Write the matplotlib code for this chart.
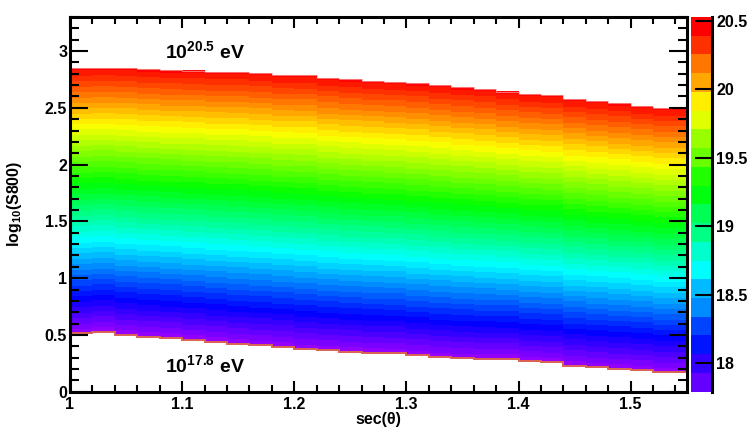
import colorsys
import numpy as np
import matplotlib
matplotlib.use('Agg')
import matplotlib.pyplot as plt
from matplotlib.colors import ListedColormap, Normalize, BoundaryNorm
from matplotlib.cm import ScalarMappable
from matplotlib.ticker import MultipleLocator

# sec(theta) bins (lower edges), width 0.02
sec_lo = [1.00, 1.02, 1.04, 1.06, 1.08, 1.10, 1.12, 1.14, 1.16, 1.18,
          1.20, 1.22, 1.24, 1.26, 1.28, 1.30, 1.32, 1.34, 1.36, 1.38,
          1.40, 1.42, 1.44, 1.46, 1.48, 1.50, 1.52, 1.54]
bin_width = 0.02

# log10(S800) reached by a 10^20.5 eV shower in each bin
s800_top = [2.851, 2.851, 2.851, 2.839, 2.830, 2.828, 2.819, 2.819, 2.807, 2.792,
            2.792, 2.766, 2.751, 2.740, 2.731, 2.719, 2.701, 2.683, 2.669, 2.643,
            2.625, 2.616, 2.581, 2.560, 2.539, 2.519, 2.501, 2.501]
# log10(S800) reached by a 10^17.8 eV shower in each bin
s800_bottom = [0.515, 0.530, 0.500, 0.485, 0.474, 0.456, 0.439, 0.421, 0.410, 0.397,
               0.377, 0.365, 0.353, 0.344, 0.339, 0.321, 0.306, 0.297, 0.289, 0.289,
               0.268, 0.259, 0.229, 0.215, 0.203, 0.192, 0.171, 0.171]

e_low, e_high = 17.8, 20.5          # log10(E/eV) at the two edges
z_min, z_max = 17.79, 20.53         # palette range
cbar_ticks = [18, 18.5, 19, 19.5, 20, 20.5]
n_contours = 20


def root_palette():     # ROOT "pretty" palette (SetPalette(1)): violet -> red
    cols = []
    for i in range(49):
        hue = 280.0 - (i + 1) * 280.0 / 50
        cols.append(colorsys.hls_to_rgb(hue / 360.0, 0.5, 1.0))
    cols.append((1.0, 0.0, 0.0))
    return cols


plt.rcParams['font.family'] = ['Liberation Sans', 'DejaVu Sans']
plt.rcParams['font.weight'] = 'bold'
plt.rcParams['mathtext.fontset'] = 'custom'
plt.rcParams['mathtext.rm'] = 'Liberation Sans:bold'
plt.rcParams['mathtext.it'] = 'Liberation Sans:bold'
plt.rcParams['mathtext.bf'] = 'Liberation Sans:bold'

palette = root_palette()

fig = plt.figure(figsize=(7.5, 4.28), dpi=100)
ax = fig.add_axes([70 / 750, 1 - 391.7 / 428, 616.7 / 750, 374.7 / 428])

# build the 2D map: energy grows linearly in log10(S800) inside each column
top = np.array(s800_top)
bot = np.array(s800_bottom)
x_edges = np.append(sec_lo, sec_lo[-1] + bin_width)
y_edges = np.arange(0, 3.3001, 0.005)
yc = 0.5 * (y_edges[1:] + y_edges[:-1])
z = e_low + (yc[:, None] - bot[None, :]) / (top - bot)[None, :] * (e_high - e_low)
z = np.ma.masked_where((yc[:, None] < bot[None, :]) | (yc[:, None] > top[None, :]), z)

ax.pcolormesh(x_edges, y_edges, z, cmap=ListedColormap(palette),
              norm=Normalize(z_min, z_max), shading='flat', rasterized=True)

# lower edge line and faint upper edge
ax.stairs(bot, x_edges, baseline=None, color='#dc6252', lw=1.4)
ax.stairs(top, x_edges, baseline=None, color='#f5a0a0', lw=0.8, alpha=0.7)

ax.text(1.12, 3.0, r'$\mathregular{10^{20.5}}$ eV', fontsize=14, fontweight='bold',
        ha='center', va='center')
ax.text(1.12, 0.235, r'$\mathregular{10^{17.8}}$ eV', fontsize=14, fontweight='bold',
        ha='center', va='center')

ax.set_xlim(1, 1.55)
ax.set_ylim(0, 3.3)
ax.xaxis.set_major_locator(MultipleLocator(0.1))
ax.xaxis.set_minor_locator(MultipleLocator(0.02))
ax.yaxis.set_major_locator(MultipleLocator(0.5))
ax.yaxis.set_minor_locator(MultipleLocator(0.1))
ax.xaxis.set_major_formatter(plt.FuncFormatter(lambda v, p: f'{v:g}'))
ax.yaxis.set_major_formatter(plt.FuncFormatter(lambda v, p: f'{v:g}'))

ax.tick_params(which='both', direction='in', top=True, right=True, width=1.5,
               labelsize=11.5, colors='black')
ax.tick_params(axis='x', which='major', length=8, pad=4)
ax.tick_params(axis='x', which='minor', length=4.7)
ax.tick_params(axis='y', which='major', length=13, pad=2)
ax.tick_params(axis='y', which='minor', length=6.5)
for sp in ax.spines.values():
    sp.set_linewidth(2.2)

ax.set_xlabel('sec(θ)', fontsize=11.5, fontweight='bold')
ax.xaxis.set_label_coords(0.5, -0.053)
ax.set_ylabel(r'$\mathregular{log_{10}(S800)}$', fontsize=11.5, fontweight='bold')
ax.yaxis.set_label_coords(-0.074, 0.5)

# palette axis with 20 contour levels
cax = fig.add_axes([691 / 750, 1 - 391.7 / 428, 21 / 750, 374.7 / 428])
levels = np.linspace(z_min, z_max, n_contours + 1)
bar_colors = [palette[int((j + 0.99) * len(palette) / n_contours)] for j in range(n_contours)]
sm = ScalarMappable(norm=BoundaryNorm(levels, n_contours), cmap=ListedColormap(bar_colors))
cbar = fig.colorbar(sm, cax=cax, ticks=cbar_ticks)
cbar.outline.set_visible(False)
cax.axvline(1.0, color='black', lw=2.2, clip_on=False)
cax.yaxis.set_major_formatter(plt.FuncFormatter(lambda v, p: f'{v:g}'))
cax.tick_params(which='major', direction='in', length=12, width=1.5, labelsize=11.5, pad=3)
cax.minorticks_off()

fig.savefig('out.png', dpi=100)
